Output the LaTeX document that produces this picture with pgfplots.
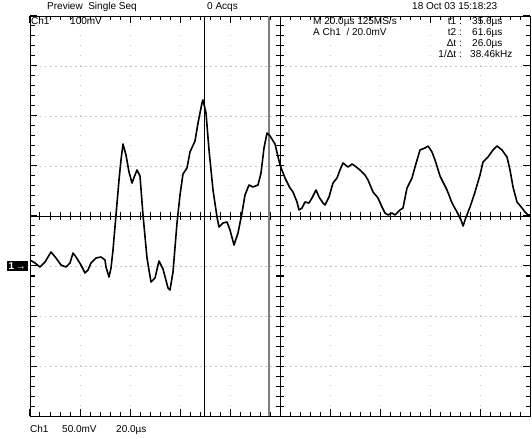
\documentclass[border=0pt]{standalone}
\usepackage{fontspec}
\setmainfont{Liberation Sans}
\usepackage{pgfplots}
\pgfplotsset{compat=1.18}
\pgfplotstableread{
t V
-34 6
-32 3
-30 -1
-28 4
-25.6 14
-23.6 8
-21.6 1
-19.6 -1
-18 3
-16.8 13
-15.6 9
-13.6 1
-12 -7
-10.8 -4
-9.6 3
-7.6 8
-5.6 9
-4 6
-3.6 -1
-2.4 -11
-1.6 -2
-0.8 16
0.4 51
1.6 86
2.4 106
3.2 122
4.4 111
5.6 94
6.8 83
8 91
8.8 96
10 90
11.2 51
12.8 8
14.4 -16
16 -12
17.6 5
19.2 -3
21.2 -22
22 -24
23.2 -6
24.8 43
26 71
27.2 92
28.8 98
30 114
32 125
33.2 143
34.8 163
35.2 166
36.4 153
37.6 116
39.2 76
40.8 49
41.6 39
43.2 43
44.8 44
46 36
47.6 21
49.2 33
50.8 53
52 71
53.6 81
55.2 79
57.2 81
58.4 93
59.6 118
60.8 133
62 130
64 122
66 101
68 88
70 78
71.2 74
72.8 64
73.6 56
74.8 58
76 64
77.6 63
78.8 68
80.4 76
81.6 69
83.2 63
84 61
85.6 69
87.2 83
88.8 88
90 96
91.2 103
93.2 99
94.8 102
96 100
98 96
100 91
101.2 86
103.2 74
105.2 68
106.8 59
108 53
109.2 51
110.8 53
112 51
114 56
115.2 58
116.8 78
118.8 88
120 99
122 116
124 118
125.2 120
126.8 114
128 106
130 90
131.2 84
132.8 76
134.8 63
136.8 54
138.4 46
139.2 40
140 46
142 59
144 74
146 91
147.2 104
149.2 109
151.2 116
152.8 120
154.8 116
156.8 109
158 96
159.2 79
160.8 64
162.8 58
164 54
165.2 51
166.4 51
}\trace
\pgfplotstableread{
t V
-30 50
-26 50
-22 50
-18 50
-14 50
-10 50
-6 50
-2 50
2 50
6 50
10 50
14 50
18 50
22 50
26 50
30 50
34 50
38 50
42 50
46 50
50 50
54 50
58 50
62 50
70 50
74 50
78 50
82 50
86 50
90 50
94 50
98 50
102 50
106 50
110 50
114 50
118 50
122 50
126 50
130 50
134 50
138 50
142 50
146 50
150 50
154 50
158 50
162 50
}\hticks
\pgfplotstableread{
t V
66 -140
66 -130
66 -120
66 -110
66 -100
66 -90
66 -80
66 -70
66 -60
66 -50
66 -40
66 -30
66 -20
66 -10
66 0
66 10
66 20
66 30
66 40
66 60
66 70
66 80
66 90
66 100
66 110
66 120
66 130
66 140
66 150
66 160
66 170
66 180
66 190
66 200
66 210
66 220
66 230
66 240
}\vticks
\begin{document}
\begin{tikzpicture}[font=\fontsize{10bp}{12bp}\selectfont]
\begin{axis}[at={(0,0)}, anchor=south west, scale only axis,
  width=500bp, height=400bp,
  xmin=-34, xmax=166, ymin=-150, ymax=250,
  xtick={-34,-14,...,166}, ytick={-150,-100,...,250}, minor tick num=4,
  xticklabel=\empty, yticklabel=\empty,
  tick align=inside, xtick pos=both, ytick pos=both,
  xmajorticks=true, ymajorticks=true, xminorticks=true, yminorticks=true,
  major tick length=7bp, minor tick length=4.5bp,
  every tick/.style={black, line width=1bp},
  axis line style={black, line width=0.9bp},
  grid=major,
  major x grid style={gray!45, line width=0.9bp, dash pattern=on 1.2bp off 8.8bp},
  major y grid style={gray!45, line width=0.9bp, dash pattern=on 1.5bp off 3.5bp},
  clip mode=individual]
% centre cross of the graticule
\addplot[black, line width=0.9bp] coordinates {(-34,50) (166,50)};
\addplot[black, line width=0.9bp] coordinates {(66,-150) (66,250)};
\addplot[only marks, mark=|, mark size=4bp, mark options={black, line width=1bp}] table[x=t, y=V] {\hticks};
\addplot[only marks, mark=-, mark size=4bp, mark options={black, line width=1bp}] table[x=t, y=V] {\vticks};
% cursors
\addplot[black, line width=0.8bp] coordinates {(35.6,-150) (35.6,250)};
\addplot[gray, line width=1.2bp] coordinates {(61.6,-150) (61.6,250)};
% trace
\addplot[black, line width=1.6bp, line join=round] table[x=t, y=V] {\trace};
\node[fill=black, text=white, anchor=east, inner xsep=2bp, inner ysep=2bp,
  font=\fontsize{10bp}{11bp}\selectfont\bfseries] at (axis cs:-34,0) [xshift=-2bp] {1\,→};
\end{axis}
\begin{scope}[x=1bp, y=-1bp, xshift=-30bp, yshift=416bp]
\node[anchor=base west, inner sep=0] at (47,10) {Preview\ \ Single Seq};
\node[anchor=base west, inner sep=0] at (207,10) {0 Acqs};
\node[anchor=base west, inner sep=0] at (412,10) {18 Oct 03 15:18:23};
\node[anchor=base west, inner sep=0] at (31,25) {Ch1};
\node[anchor=base west, inner sep=0] at (70,25) {100mV};
\node[anchor=base west, inner sep=0] at (313,25) {M 20.0µs 125MS/s};
\node[anchor=base west, inner sep=0] at (313,36) {A Ch1\ \ / 20.0mV};
\node[anchor=base east, inner sep=0] at (462,25) {t1 :};
\node[anchor=base east, inner sep=0] at (462,36) {t2 :};
\node[anchor=base east, inner sep=0] at (462,47) {Δt :};
\node[anchor=base east, inner sep=0] at (462,58) {1/Δt :};
\node[anchor=base west, inner sep=0] at (472,25) {35.6µs};
\node[anchor=base west, inner sep=0] at (472,36) {61.6µs};
\node[anchor=base west, inner sep=0] at (472,47) {26.0µs};
\node[anchor=base west, inner sep=0] at (470,58) {38.46kHz};
\node[inner sep=0] at (527,246) {←};
\node[anchor=base west, inner sep=0] at (30,433) {Ch1};
\node[anchor=base west, inner sep=0] at (62,433) {50.0mV};
\node[anchor=base west, inner sep=0] at (116,433) {20.0µs};
\pgfresetboundingbox
\path[use as bounding box] (0,0) rectangle (532,439);
\end{scope}
\end{tikzpicture}
\end{document}
